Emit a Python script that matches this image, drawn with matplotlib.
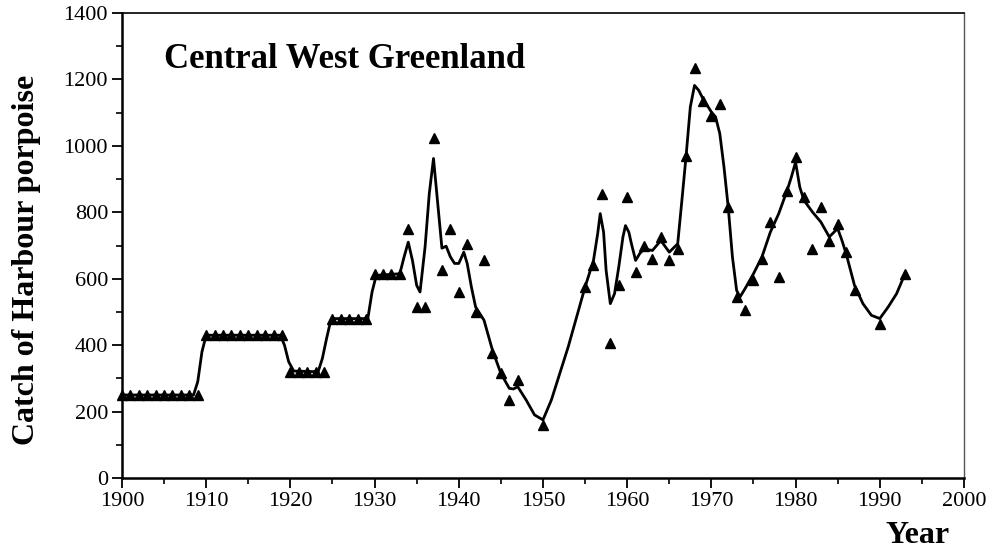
import numpy as np
import matplotlib.pyplot as plt
from matplotlib.ticker import MultipleLocator

# observed catches (triangles)
obs_years = list(range(1900, 1948)) + [1950] + list(range(1955, 1988)) + [1990, 1993]
obs_catch = ([250] * 10 + [430] * 10 + [320] * 5 + [480] * 5 + [615] * 4 +
             [750, 515, 515, 1025, 625, 750, 560, 705, 500, 655, 375, 315, 235, 295] +
             [160] +
             [575, 640, 855, 405, 580, 845, 620, 700, 660, 725, 655, 690, 970, 1235,
              1135, 1090, 1125, 815, 545, 505, 595, 660, 770, 605, 865, 965, 845, 690,
              815, 715, 765, 680, 565] +
             [465, 615])

# smoothed curve
fit_years = [1900, 1908.5, 1909, 1909.5, 1910, 1918.8, 1919.3, 1919.8, 1920.4, 1923.3,
             1923.8, 1924.3, 1924.8, 1925.2, 1929.2, 1929.7, 1930.2, 1933, 1933.5, 1934,
             1934.5, 1935, 1935.4, 1936, 1936.5, 1937, 1937.5, 1938, 1938.5, 1939,
             1939.5, 1940, 1940.6, 1941, 1941.5, 1942, 1942.5, 1943, 1944, 1945,
             1946, 1946.5, 1947, 1948, 1949, 1950, 1951, 1952, 1953, 1954,
             1955, 1956, 1956.5, 1956.8, 1957.2, 1957.5, 1958, 1958.5, 1959, 1959.5,
             1959.8, 1960.2, 1960.5, 1961, 1961.5, 1962, 1963, 1964, 1965, 1966,
             1966.5, 1967, 1967.5, 1968, 1968.5, 1969, 1970, 1970.5, 1971, 1971.5,
             1972, 1972.5, 1973, 1973.4, 1974, 1975, 1976, 1977, 1978, 1979,
             1979.5, 1980, 1980.5, 1981, 1982, 1983, 1984, 1985, 1985.5, 1986,
             1987, 1988, 1989, 1990, 1991, 1992, 1993]
fit_catch = [250, 250, 290, 380, 430, 430, 400, 350, 322, 320,
             360, 420, 475, 480, 480, 560, 610, 615, 665, 710,
             655, 580, 560, 696, 857, 962, 827, 692, 698, 666,
             646, 646, 680, 646, 575, 515, 495, 475, 385, 315,
             270, 268, 275, 235, 190, 175, 235, 315, 395, 485,
             575, 655, 736, 796, 740, 625, 525, 555, 635, 726,
             760, 740, 706, 655, 676, 690, 685, 715, 680, 705,
             836, 970, 1117, 1182, 1167, 1142, 1102, 1087, 1037, 936,
             816, 666, 565, 545, 570, 615, 665, 740, 796, 866,
             906, 951, 876, 836, 801, 771, 726, 751, 716, 676,
             580, 525, 490, 480, 515, 555, 615]

plt.rcParams['font.family'] = 'Liberation Serif'

fig = plt.figure(figsize=(9.9, 5.53), dpi=100)
ax = fig.add_axes([0.1232, 0.1356, 0.8505, 0.8409])

ax.plot(fit_years, fit_catch, color='black', linewidth=2.0, zorder=2,
        solid_joinstyle='round')
ax.plot(obs_years, obs_catch, linestyle='none', marker='^', markersize=7.5,
        color='black', clip_on=False, zorder=3)

ax.set_xlim(1900, 2000)
ax.set_ylim(0, 1400)
ax.xaxis.set_major_locator(MultipleLocator(10))
ax.xaxis.set_minor_locator(MultipleLocator(5))
ax.yaxis.set_major_locator(MultipleLocator(200))
ax.yaxis.set_minor_locator(MultipleLocator(100))
ax.tick_params(which='major', length=7, width=1.3, labelsize=16, pad=3)
ax.tick_params(which='minor', length=4, width=1.2)

ax.spines['left'].set_linewidth(1.8)
ax.spines['bottom'].set_linewidth(1.8)
ax.spines['top'].set_linewidth(1.2)
ax.spines['right'].set_linewidth(1.0)
ax.spines['right'].set_color('#555555')

ax.text(1905, 1235, 'Central West Greenland', fontsize=25, fontweight='bold',
        va='baseline', ha='left')
fig.text(0.027, 0.53, 'Catch of Harbour porpoise', rotation=90, fontsize=23,
         fontweight='bold', ha='center', va='center')
fig.text(0.927, 0.018, 'Year', fontsize=23, fontweight='bold', ha='center', va='baseline')

plt.savefig('out.png', dpi=100)
